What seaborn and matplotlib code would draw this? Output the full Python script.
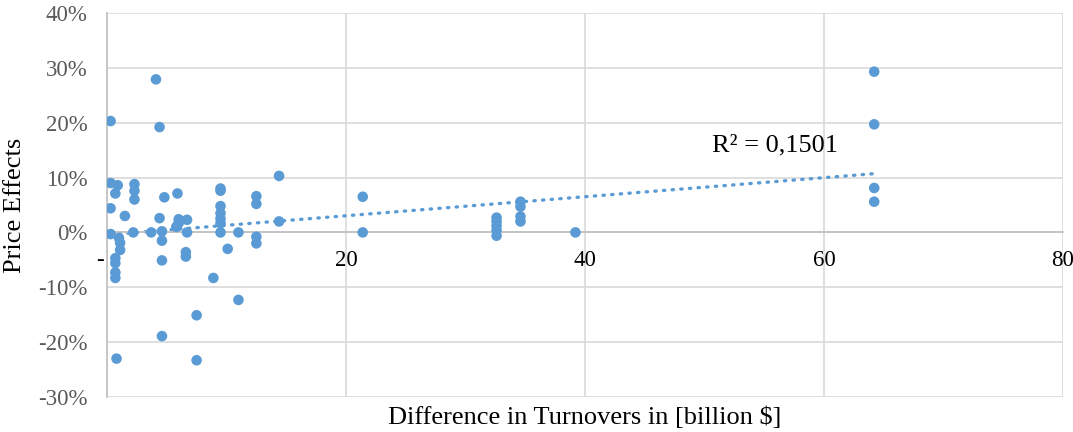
import pandas as pd
import matplotlib.pyplot as plt
import seaborn as sns
from matplotlib.ticker import FuncFormatter, MultipleLocator
from matplotlib.transforms import ScaledTranslation

# Data: x = difference in turnovers [billion $], y = price effect [%]
turnover_diff = [
    0.3, 0.3, 0.9, 0.7, 0.3, 0.3, 0.7, 0.7, 0.7, 0.7, 0.8,
    1.0, 1.1, 1.1, 1.5, 2.2, 2.3, 2.3, 2.3, 3.7, 4.1, 4.4,
    4.4, 4.6, 4.6, 4.6, 4.6, 4.8, 5.9, 6.0, 6.0, 5.8, 6.7,
    6.7, 6.6, 6.6, 7.5, 7.5, 8.9, 9.5, 9.5, 9.5, 9.5, 9.5,
    9.5, 9.5, 10.1, 11.0, 11.0, 12.5, 12.5, 12.5, 12.5, 14.4, 14.4,
    21.4, 21.4, 32.6, 32.6, 32.6, 32.6, 32.6, 34.6, 34.6, 34.6, 34.6,
    39.2, 64.2, 64.2, 64.2, 64.2,
]
price_effect = [
    20.3, 9.0, 8.6, 7.1, 4.4, -0.3, -4.7, -5.6, -7.3, -8.3, -23.0,
    -1.0, -1.9, -3.2, 3.0, 0.0, 8.8, 7.6, 6.0, 0.0, 27.9, 19.2,
    2.6, 0.2, -1.5, -5.1, -18.9, 6.4, 7.1, 2.4, 1.7, 1.0, 2.3,
    0.0, -3.6, -4.4, -15.1, -23.3, -8.3, 8.0, 7.6, 4.8, 3.5, 2.5,
    1.7, 0.0, -3.0, 0.0, -12.3, 6.6, 5.2, -0.8, -2.0, 10.3, 2.0,
    6.5, 0.0, 2.7, 2.0, 1.2, 0.4, -0.6, 5.6, 4.7, 2.9, 2.0,
    0.0, 29.3, 19.7, 8.1, 5.6,
]
r2_label = "R² = 0,1501"

df = pd.DataFrame({'diff': turnover_diff, 'effect': price_effect})

sns.set_style('white')
plt.rcParams['font.family'] = ['Liberation Serif', 'DejaVu Serif']

blue = '#5B9BD5'
fig = plt.figure(figsize=(10.73, 4.32), dpi=100)
ax = fig.add_axes([0.0997, 0.081, 0.891, 0.889])

sns.scatterplot(data=df, x='diff', y='effect', color=blue, s=58,
                edgecolor='none', ax=ax, zorder=3)

# Linear trend line, dotted like the Excel one
sns.regplot(data=df, x='diff', y='effect', scatter=False, ci=None, truncate=True,
            ax=ax, line_kws=dict(color=blue, lw=2.4, linestyle=(0, (0.4, 2.2)),
                                 dash_capstyle='round', zorder=2))

ax.set_xlim(0, 80)
ax.set_ylim(-30, 40)
ax.xaxis.set_major_locator(MultipleLocator(20))
ax.yaxis.set_major_locator(MultipleLocator(10))
ax.xaxis.set_major_formatter(FuncFormatter(lambda v, p: '-' if v == 0 else f'{v:.0f}'))
ax.yaxis.set_major_formatter(FuncFormatter(lambda v, p: f'{v:.0f}%'))

ax.grid(True, color='#d9d9d9', lw=1.2)
ax.set_axisbelow(True)
for side in ['top', 'right']:
    ax.spines[side].set_visible(False)
ax.spines['left'].set_color('#bfbfbf')
ax.spines['left'].set_linewidth(1.2)
ax.spines['bottom'].set_position(('data', 0))
ax.spines['bottom'].set_color('#bfbfbf')
ax.spines['bottom'].set_linewidth(1.2)

ax.tick_params(axis='x', length=0, pad=13, labelsize=16.5, labelcolor='black')
ax.tick_params(axis='y', length=0, pad=14, labelsize=16.5, labelcolor='#595959')

# Excel's accounting "-" for zero sits a little left of the axis
fig.canvas.draw()
for tick in ax.xaxis.get_major_ticks():
    if tick.label1.get_text() == '-':
        tick.label1.set_transform(tick.label1.get_transform() +
                                  ScaledTranslation(-5 / 72, 0, fig.dpi_scale_trans))

ax.set_xlabel('Difference in Turnovers in [billion $]', fontsize=19, color='black')
ax.set_ylabel('Price Effects', fontsize=19, color='black')
ax.xaxis.set_label_coords(0.5, -0.025, transform=ax.transAxes)
ax.xaxis.label.set_verticalalignment('top')
ax.yaxis.set_label_coords(-0.085, 0.5)

ax.text(50.6, 13.9, r2_label, fontsize=19, color='black', ha='left', va='bottom')

fig.savefig('out.png', dpi=100)
